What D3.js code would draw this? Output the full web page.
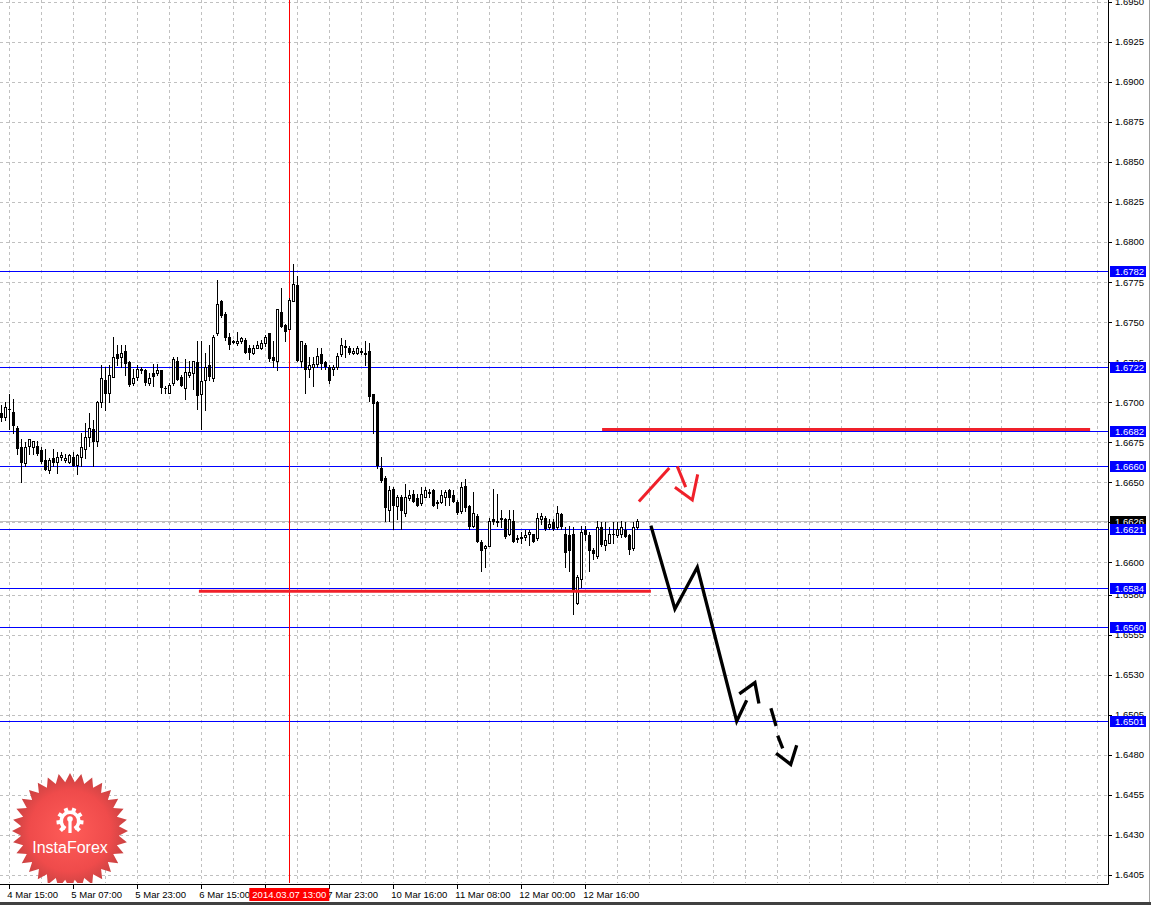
<!DOCTYPE html>
<html>
<head>
<meta charset="utf-8">
<script src="https://cdn.jsdelivr.net/npm/d3@7"></script>
<style>
  body { margin: 0; background: #fff; }
  svg { display: block; font-family: 'Liberation Sans', Arial, sans-serif; }
</style>
</head>
<body>
<script>
// H1 bars, first one is two bars before 4 Mar 15:00
const firstBar = -2
const ohlc = [
  [1.6693,1.6698,1.6688,1.6690],[1.6691,1.6700,1.6689,1.6697],[1.6696,1.6705,1.6683,1.6695],[1.6694,1.6702,1.6681,1.6685],
  [1.6684,1.6685,1.6668,1.6671],[1.6672,1.6677,1.6650,1.6662],[1.6662,1.6675,1.6660,1.6672],[1.6673,1.6677,1.6668,1.6677],
  [1.6672,1.6676,1.6668,1.6676],[1.6673,1.6676,1.6667,1.6668],[1.6670,1.6672,1.6662,1.6663],[1.6664,1.6671,1.6658,1.6658],
  [1.6658,1.6665,1.6656,1.6664],[1.6665,1.6671,1.6660,1.6662],[1.6663,1.6669,1.6656,1.6666],[1.6666,1.6669,1.6664,1.6667],
  [1.6664,1.6668,1.6663,1.6665],[1.6663,1.6668,1.6662,1.6667],[1.6666,1.6669,1.6660,1.6660],[1.6661,1.6668,1.6655,1.6667],
  [1.6666,1.6681,1.6660,1.6672],[1.6671,1.6687,1.6665,1.6678],[1.6678,1.6693,1.6673,1.6684],[1.6683,1.6689,1.6660,1.6675],
  [1.6676,1.6701,1.6673,1.6700],[1.6700,1.6723,1.6697,1.6715],[1.6714,1.6722,1.6695,1.6705],[1.6706,1.6723,1.6700,1.6717],
  [1.6716,1.6741,1.6716,1.6728],[1.6730,1.6736,1.6723,1.6727],[1.6728,1.6736,1.6722,1.6731],[1.6732,1.6736,1.6717,1.6724],
  [1.6725,1.6726,1.6710,1.6711],[1.6712,1.6721,1.6711,1.6715],[1.6716,1.6723,1.6714,1.6721],[1.6720,1.6722,1.6718,1.6721],
  [1.6720,1.6721,1.6711,1.6712],[1.6712,1.6718,1.6711,1.6715],[1.6718,1.6724,1.6710,1.6716],[1.6718,1.6724,1.6717,1.6720],
  [1.6720,1.6720,1.6706,1.6709],[1.6709,1.6710,1.6706,1.6708],[1.6706,1.6712,1.6706,1.6711],[1.6712,1.6728,1.6711,1.6727],
  [1.6726,1.6728,1.6714,1.6714],[1.6716,1.6717,1.6710,1.6710],[1.6709,1.6727,1.6702,1.6719],[1.6717,1.6726,1.6716,1.6719],
  [1.6718,1.6726,1.6708,1.6726],[1.6725,1.6738,1.6696,1.6704],[1.6705,1.6738,1.6683,1.6713],[1.6714,1.6731,1.6695,1.6722],
  [1.6723,1.6736,1.6714,1.6716],[1.6715,1.6742,1.6713,1.6741],[1.6743,1.6776,1.6742,1.6761],[1.6763,1.6764,1.6753,1.6754],
  [1.6755,1.6756,1.6739,1.6740],[1.6741,1.6743,1.6733,1.6736],[1.6738,1.6739,1.6737,1.6737],[1.6737,1.6744,1.6736,1.6738],
  [1.6738,1.6741,1.6737,1.6740],[1.6739,1.6740,1.6731,1.6731],[1.6734,1.6736,1.6727,1.6731],[1.6731,1.6736,1.6730,1.6734],
  [1.6734,1.6738,1.6734,1.6736],[1.6734,1.6739,1.6733,1.6737],[1.6737,1.6742,1.6735,1.6741],[1.6743,1.6743,1.6726,1.6727],
  [1.6728,1.6738,1.6722,1.6726],[1.6726,1.6758,1.6720,1.6758],[1.6756,1.6771,1.6747,1.6747],[1.6748,1.6749,1.6738,1.6744],
  [1.6746,1.6765,1.6746,1.6764],[1.6763,1.6786,1.6763,1.6774],[1.6773,1.6779,1.6726,1.6726],[1.6726,1.6738,1.6722,1.6738],
  [1.6736,1.6737,1.6706,1.6720],[1.6721,1.6728,1.6716,1.6723],[1.6722,1.6728,1.6710,1.6724],[1.6724,1.6734,1.6722,1.6729],
  [1.6730,1.6734,1.6721,1.6724],[1.6725,1.6726,1.6721,1.6722],[1.6722,1.6723,1.6712,1.6713],[1.6721,1.6723,1.6717,1.6722],
  [1.6722,1.6731,1.6721,1.6729],[1.6730,1.6740,1.6729,1.6736],[1.6735,1.6739,1.6728,1.6734],[1.6734,1.6735,1.6730,1.6731],
  [1.6731,1.6734,1.6730,1.6732],[1.6731,1.6735,1.6730,1.6734],[1.6732,1.6734,1.6730,1.6731],[1.6730,1.6738,1.6723,1.6731],
  [1.6732,1.6737,1.6701,1.6703],[1.6705,1.6705,1.6681,1.6699],[1.6700,1.6701,1.6659,1.6660],[1.6659,1.6666,1.6650,1.6651],
  [1.6653,1.6654,1.6626,1.6634],[1.6633,1.6648,1.6626,1.6645],[1.6646,1.6647,1.6621,1.6635],[1.6635,1.6642,1.6627,1.6641],
  [1.6641,1.6642,1.6621,1.6632],[1.6631,1.6649,1.6629,1.6641],[1.6640,1.6645,1.6639,1.6642],[1.6643,1.6645,1.6638,1.6638],
  [1.6640,1.6643,1.6635,1.6635],[1.6637,1.6647,1.6636,1.6643],[1.6641,1.6647,1.6641,1.6645],[1.6644,1.6646,1.6641,1.6643],
  [1.6645,1.6646,1.6635,1.6635],[1.6637,1.6639,1.6634,1.6638],[1.6638,1.6645,1.6637,1.6642],[1.6641,1.6645,1.6636,1.6644],
  [1.6645,1.6646,1.6636,1.6640],[1.6642,1.6645,1.6638,1.6638],[1.6638,1.6639,1.6630,1.6631],[1.6632,1.6650,1.6631,1.6647],
  [1.6648,1.6652,1.6632,1.6634],[1.6635,1.6636,1.6621,1.6622],[1.6623,1.6644,1.6622,1.6631],[1.6629,1.6630,1.6613,1.6613],
  [1.6613,1.6614,1.6595,1.6607],[1.6609,1.6611,1.6597,1.6610],[1.6610,1.6628,1.6610,1.6626],[1.6627,1.6646,1.6624,1.6625],
  [1.6625,1.6643,1.6623,1.6626],[1.6627,1.6633,1.6622,1.6628],[1.6627,1.6628,1.6615,1.6616],[1.6618,1.6633,1.6617,1.6627],
  [1.6626,1.6633,1.6613,1.6613],[1.6615,1.6617,1.6613,1.6614],[1.6615,1.6619,1.6612,1.6616],[1.6616,1.6620,1.6614,1.6617],
  [1.6618,1.6620,1.6611,1.6619],[1.6618,1.6618,1.6613,1.6613],[1.6615,1.6631,1.6614,1.6628],[1.6627,1.6631,1.6624,1.6629],
  [1.6628,1.6629,1.6620,1.6621],[1.6622,1.6627,1.6621,1.6624],[1.6625,1.6627,1.6620,1.6621],[1.6622,1.6635,1.6621,1.6631],
  [1.6630,1.6631,1.6621,1.6622],[1.6618,1.6622,1.6597,1.6606],[1.6617,1.6623,1.6595,1.6607],[1.6618,1.6622,1.6568,1.6582],
  [1.6575,1.6592,1.6574,1.6591],[1.6590,1.6623,1.6585,1.6619],[1.6620,1.6623,1.6614,1.6617],[1.6617,1.6619,1.6595,1.6607],
  [1.6608,1.6609,1.6602,1.6605],[1.6604,1.6626,1.6603,1.6622],[1.6622,1.6625,1.6610,1.6611],[1.6611,1.6625,1.6608,1.6614],
  [1.6612,1.6622,1.6612,1.6618],[1.6618,1.6625,1.6612,1.6617],[1.6617,1.6625,1.6616,1.6621],[1.6618,1.6626,1.6616,1.6622],
  [1.6620,1.6625,1.6616,1.6616],[1.6617,1.6618,1.6605,1.6608],[1.6609,1.6625,1.6608,1.6622],[1.6622,1.6627,1.6621,1.6626]
]

const timeLabels = ['4 Mar 15:00','5 Mar 07:00','5 Mar 23:00','6 Mar 15:00','7 Mar 07:00','7 Mar 23:00',
                    '10 Mar 16:00','11 Mar 08:00','12 Mar 00:00','12 Mar 16:00']
const timeLabelBars = [0,16,32,48,64,80,96,112,128,144]

const priceTicks = [1.6405,1.6430,1.6455,1.6480,1.6505,1.6530,1.6555,1.6580,1.6600,1.6625,1.6650,1.6675,
                    1.6700,1.6725,1.6750,1.6775,1.6800,1.6825,1.6850,1.6875,1.6900,1.6925,1.6950]

const levelLines = [1.6782,1.6722,1.6682,1.6660,1.6621,1.6584,1.6560,1.6501]
const bidPrice = 1.6626
const cursorBar = 70
const cursorLabel = '2014.03.07 13:00'

// red support / resistance segments: [from bar, to bar, price]
const redLevels = [[148.2,270.2,1.6683],[47.4,160.4,1.6582]]

// hand drawn forecast: [bar, price]
const redStrokes = [
  [[157.4,1.6638],[165,1.6659]],
  [[167,1.6660],[169.1,1.6647]],
  [[166.4,1.6647],[170.75,1.6639],[172.1,1.6655]]
]
const forecastSolid = [[160.4,1.6623],[166.4,1.6571],[172,1.6597],[181.85,1.6501],[184.35,1.6514]]
const forecastDashes = [
  [[182.5,1.6518],[186.4,1.6525],[187.4,1.6512]],
  [[190.4,1.6509],[191.7,1.6498]],
  [[192.1,1.6492],[193.35,1.6484]],
  [[191.7,1.6481],[195.35,1.6474],[196.85,1.6486]]
]

let width = 1151
let height = 905
let plotRight = 1108
let plotBottom = 883

let svg = d3.select('body').append('svg').attr('width',width).attr('height',height)

let xScale = d3.scaleLinear().domain([0,100]).range([9.3,409.3])
let yScale = d3.scaleLinear().domain([1.6400,1.6951]).range([plotBottom,0])

// grid
let grid = svg.append('g').attr('stroke','#c0c0c0').attr('stroke-dasharray','3,3')
let vBars = d3.range(0,300,8).filter(b => xScale(b) < plotRight)
grid.selectAll('.vg').data(vBars).enter().append('line')
    .attr('x1',b => Math.round(xScale(b))+0.5).attr('x2',b => Math.round(xScale(b))+0.5)
    .attr('y1',0).attr('y2',plotBottom)
grid.selectAll('.hg').data(priceTicks).enter().append('line')
    .attr('x1',0).attr('x2',plotRight)
    .attr('y1',p => Math.round(yScale(p))+0.5).attr('y2',p => Math.round(yScale(p))+0.5)

// bid line
svg.append('line')
   .attr('x1',0).attr('x2',plotRight)
   .attr('y1',Math.round(yScale(bidPrice))+0.5).attr('y2',Math.round(yScale(bidPrice))+0.5)
   .attr('stroke','#c0c0c0')

// horizontal blue levels
svg.append('g').selectAll('line').data(levelLines).enter().append('line')
   .attr('x1',0).attr('x2',plotRight)
   .attr('y1',p => Math.round(yScale(p))+0.5).attr('y2',p => Math.round(yScale(p))+0.5)
   .attr('stroke','#0000ff')

// cursor vertical line
svg.append('line')
   .attr('x1',Math.round(xScale(cursorBar))+0.5).attr('x2',Math.round(xScale(cursorBar))+0.5)
   .attr('y1',0).attr('y2',plotBottom)
   .attr('stroke','#ff0000')

// candles
let bars = ohlc.map((d,k) => ({i: firstBar + k, o: d[0], h: d[1], l: d[2], c: d[3]}))
let candles = svg.append('g')
candles.selectAll('.wick').data(bars).enter().append('line')
   .attr('x1',d => Math.round(xScale(d.i))+0.5).attr('x2',d => Math.round(xScale(d.i))+0.5)
   .attr('y1',d => Math.round(yScale(d.h))).attr('y2',d => Math.round(yScale(d.l))+1)
   .attr('stroke','#000')
candles.selectAll('.body').data(bars).enter().append('rect')
   .attr('x',d => Math.round(xScale(d.i)) - (d.c > d.o ? 0.5 : 1))
   .attr('y',d => Math.round(yScale(Math.max(d.o,d.c))) + (d.c > d.o ? 0.5 : 0))
   .attr('width',d => d.c > d.o ? 2 : 3)
   .attr('height',d => {
       let hgt = Math.round(yScale(Math.min(d.o,d.c))) - Math.round(yScale(Math.max(d.o,d.c)))
       return d.c > d.o ? Math.max(hgt,1) : Math.max(hgt,1)
   })
   .attr('fill',d => d.c > d.o ? '#fff' : '#000')
   .attr('stroke',d => d.c > d.o ? '#000' : 'none')

// red levels
svg.append('g').selectAll('line').data(redLevels).enter().append('line')
   .attr('x1',d => xScale(d[0])).attr('x2',d => xScale(d[1]))
   .attr('y1',d => yScale(d[2])).attr('y2',d => yScale(d[2]))
   .attr('stroke','#f0202a').attr('stroke-width',3)

let line = d3.line().x(d => xScale(d[0])).y(d => yScale(d[1]))

svg.append('g').selectAll('path').data(redStrokes).enter().append('path')
   .attr('d',line).attr('fill','none')
   .attr('stroke','#f0202a').attr('stroke-width',3)

svg.append('path').datum(forecastSolid)
   .attr('d',line).attr('fill','none')
   .attr('stroke','#000').attr('stroke-width',3.3).attr('stroke-linejoin','miter')

svg.append('g').selectAll('path').data(forecastDashes).enter().append('path')
   .attr('d',line).attr('fill','none')
   .attr('stroke','#000').attr('stroke-width',3.3)

// logo
let defs = svg.append('defs')
let grad = defs.append('radialGradient').attr('id','logoGrad')
grad.append('stop').attr('offset','0%').attr('stop-color','#ff5c58')
grad.append('stop').attr('offset','70%').attr('stop-color','#ef4b4b')
grad.append('stop').attr('offset','100%').attr('stop-color','#c94242')
defs.append('clipPath').attr('id','plotClip').append('rect')
    .attr('x',0).attr('y',0).attr('width',plotRight).attr('height',plotBottom)

let logo = svg.append('g').attr('clip-path','url(#plotClip)')
    .append('g').attr('transform','translate(70,831)')
let spikes = 32
let starPts = d3.range(spikes*2).map(k => {
    let r = k % 2 == 0 ? 58 : 49
    let a = Math.PI * k / spikes - Math.PI/2
    return [r*Math.cos(a), r*Math.sin(a)]
})
logo.append('path').attr('d','M' + starPts.join('L') + 'Z').attr('fill','url(#logoGrad)')

let icon = logo.append('g').attr('transform','translate(0,-10)').attr('fill','#fff').attr('stroke','#fff')
icon.append('path')
    .attr('d',d3.arc().innerRadius(7).outerRadius(10.5).startAngle(-2.6).endAngle(2.6)())
    .attr('stroke','none')
d3.range(8).forEach(k => {
    let a = -2.36 + k*0.674
    if (Math.abs(a) > 2.7) return
    icon.append('rect').attr('x',-2).attr('y',-13.5).attr('width',4).attr('height',4)
        .attr('stroke','none').attr('transform','rotate(' + (a*180/Math.PI) + ')')
})
icon.append('circle').attr('cx',0).attr('cy',-2).attr('r',2.8).attr('stroke','none')
icon.append('rect').attr('x',-1.6).attr('y',0).attr('width',3.2).attr('height',12).attr('stroke','none')

logo.append('text').attr('x',0).attr('y',22)
    .attr('text-anchor','middle').attr('fill','#fff')
    .style('font-size','16px').text('InstaForex')

// axes frame
svg.append('line').attr('x1',0).attr('x2',plotRight+0.5)
   .attr('y1',plotBottom+1.5).attr('y2',plotBottom+1.5).attr('stroke','#000')
svg.append('line').attr('x1',plotRight+0.5).attr('x2',plotRight+0.5)
   .attr('y1',0).attr('y2',plotBottom+1.5).attr('stroke','#000')
svg.append('rect').attr('x',0).attr('y',902).attr('width',width).attr('height',3).attr('fill','#404040')
svg.append('line').attr('x1',width-1.5).attr('x2',width-1.5).attr('y1',0).attr('y2',902).attr('stroke','#a0a0a0')

// price axis
let yAxisG = svg.append('g')
yAxisG.selectAll('.tk').data(priceTicks).enter().append('line')
   .attr('x1',plotRight).attr('x2',plotRight+4)
   .attr('y1',p => Math.round(yScale(p))+0.5).attr('y2',p => Math.round(yScale(p))+0.5)
   .attr('stroke','#000')
yAxisG.selectAll('text').data(priceTicks).enter().append('text')
   .attr('x',plotRight+7).attr('y',p => yScale(p)+3.5)
   .style('font-size','9.5px').attr('fill','#000')
   .text(p => p.toFixed(4))

let tagBox = (p,fill) => {
    let g = svg.append('g').attr('transform','translate(' + (plotRight+2) + ',' + Math.round(yScale(p)) + ')')
    g.append('rect').attr('x',0).attr('y',-5).attr('width',36).attr('height',11).attr('fill',fill)
    g.append('text').attr('x',5).attr('y',4).attr('fill','#fff')
     .style('font-size','9.5px').text(p.toFixed(4))
}
tagBox(bidPrice,'#000')
levelLines.forEach(p => tagBox(p,'#0000ff'))

// time axis
let xAxisG = svg.append('g')
xAxisG.selectAll('line').data(timeLabelBars).enter().append('line')
   .attr('x1',b => Math.round(xScale(b))+0.5).attr('x2',b => Math.round(xScale(b))+0.5)
   .attr('y1',plotBottom+1).attr('y2',plotBottom+6).attr('stroke','#000')
xAxisG.selectAll('text').data(timeLabels).enter().append('text')
   .attr('x',(t,k) => xScale(timeLabelBars[k]) - 2).attr('y',plotBottom+15)
   .style('font-size','9.5px').attr('fill','#000')
   .text(t => t)

let cx = xScale(cursorBar)
svg.append('rect').attr('x',cx-40).attr('y',plotBottom+5).attr('width',80).attr('height',13).attr('fill','#ff0000')
svg.append('text').attr('x',cx).attr('y',plotBottom+15)
   .attr('text-anchor','middle').attr('fill','#fff')
   .style('font-size','9.5px').text(cursorLabel)
</script>
</body>
</html>
